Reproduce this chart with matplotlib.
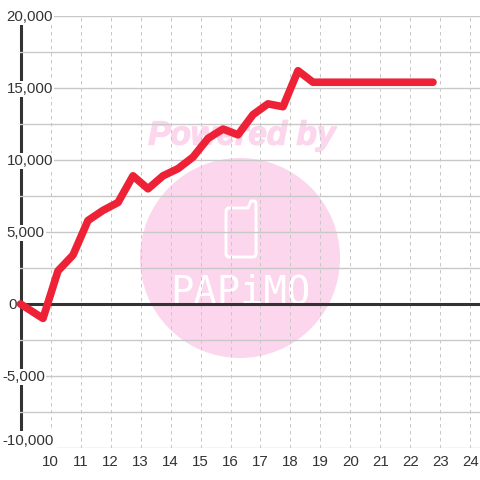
import matplotlib
matplotlib.use("Agg")
from matplotlib import pyplot as plt
from matplotlib import patheffects
from matplotlib.patches import Circle, PathPatch
from matplotlib.path import Path
from matplotlib.transforms import IdentityTransform

plt.rcParams['font.family'] = ['Liberation Sans', 'DejaVu Sans']

hours = [9.0, 9.75, 10.25, 10.75, 11.25, 11.75, 12.25, 12.75, 13.25, 13.75, 14.25,
         14.75, 15.25, 15.75, 16.25, 16.75, 17.25, 17.75, 18.25, 18.75, 19.25, 19.75,
         20.25, 20.75, 21.25, 21.75, 22.25, 22.75]
profit = [0, -1000, 2300, 3400, 5800, 6500, 7050, 8900, 8000, 8900, 9400,
          10200, 11500, 12150, 11750, 13150, 13900, 13700, 16200, 15400, 15400, 15400,
          15400, 15400, 15400, 15400, 15400, 15400]
x_ticks = list(range(10, 25))
y_ticks = [-10000, -5000, 0, 5000, 10000, 15000, 20000]
y_labels = ['-10,000', '-5,000', '0', '5,000', '10,000', '15,000', '20,000']
y_grid = [-7500, -2500, 2500, 7500, 12500, 17500]

dark = '#333333'
grid_col = '#c8c8c8'
pink = '#fcd6ec'

fig = plt.figure(figsize=(4.8, 4.8), dpi=100)
ax = fig.add_axes([20 / 480, 32 / 480, 460 / 480, 432 / 480])
ax.set_xlim(8.983, 24.317)
ax.set_ylim(-10000, 20000)

# watermark, in pixels
px = IdentityTransform()
ax.add_patch(Circle((240, 222), 100, color=pink, lw=0, transform=px, zorder=0.1))
phone = Path([(226, 269), (226, 272), (229, 272), (248, 272), (251, 279), (254, 279), (256, 279),
              (256, 276), (256, 226), (256, 223), (253, 223), (229, 223), (226, 223), (226, 226),
              (226, 269)],
             [Path.MOVETO, Path.CURVE3, Path.CURVE3, Path.LINETO, Path.LINETO, Path.LINETO,
              Path.CURVE3, Path.CURVE3, Path.LINETO, Path.CURVE3, Path.CURVE3, Path.LINETO,
              Path.CURVE3, Path.CURVE3, Path.LINETO])
ax.add_patch(PathPatch(phone, fc='none', ec='white', lw=2.1, joinstyle='round',
                       transform=px, zorder=0.2))
ax.text(242, 344, 'Powered by', color=pink, fontsize=24, weight='bold', style='italic',
        ha='center', va='center', transform=px, zorder=0.2,
        path_effects=[patheffects.withStroke(linewidth=1, foreground=pink)])
ax.text(240, 188, 'PAPiMO', color='white', fontsize=28, family='DejaVu Sans Mono',
        ha='center', va='center', transform=px, zorder=0.2)

ax.set_axisbelow(True)
ax.set_xticks(x_ticks)
ax.set_yticks(y_ticks)
ax.set_yticks(y_grid, minor=True)
ax.set_yticklabels([])
ax.grid(True, axis='y', which='both', color=grid_col, lw=1.0)
ax.grid(True, axis='x', color=grid_col, lw=0.72, ls=(0, (3.5, 3.5)))
ax.tick_params(which='both', length=0)
ax.tick_params(axis='x', labelsize=10.8, labelcolor=dark, pad=5)

# y labels sit inside the plot on a white box, hiding spine and grid behind them
for val, lab in zip(y_ticks, y_labels):
    lx = 2 if val < 0 else (8 if val == 0 else 6.5)
    up = -0.7
    box_pad = 0.8
    if val == -10000:
        up = 5  # lowest label is pushed up off the bottom edge
        box_pad = 2.5
    ax.annotate(lab, (lx, val), xycoords=('figure pixels', 'data'), xytext=(0, up),
                textcoords='offset points', fontsize=10.8, color=dark,
                ha='left', va='center', zorder=0.6, annotation_clip=False,
                bbox=dict(fc='white', ec='none', pad=box_pad))

for s in ['top', 'right', 'bottom']:
    ax.spines[s].set_visible(False)
ax.spines['left'].set_color(dark)
ax.spines['left'].set_linewidth(2.2)
ax.spines['left'].set_zorder(0.3)
ax.spines['left'].set_position(('data', 9))

ax.axhline(0, xmin=0.001, color=dark, lw=2.2, zorder=1)
ax.plot(hours, profit, color='#ee2236', lw=5.5, solid_joinstyle='round',
        solid_capstyle='round', zorder=2, clip_on=False)

fig.savefig('out.png', dpi=100)
